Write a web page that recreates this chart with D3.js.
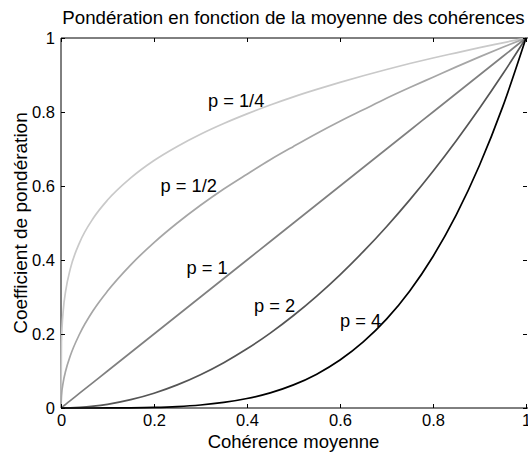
<!DOCTYPE html>
<html>
<head>
<meta charset="utf-8">
<script src="https://cdn.jsdelivr.net/npm/d3@7"></script>
<style>
  body { margin: 0; background: #fff; }
  text { font-family: "Liberation Sans", Arial, sans-serif; }
</style>
</head>
<body>
<div id="container"></div>
<script>
// sample points along the x axis (mean coherence)
const xs = [0, 0.001, 0.005, 0.01, 0.02, 0.04, 0.07, 0.1, 0.15, 0.2, 0.25, 0.3, 0.35, 0.4,
            0.45, 0.5, 0.55, 0.6, 0.65, 0.7, 0.75, 0.8, 0.85, 0.9, 0.95, 1];

// weighting coefficient
const yQuarter = [0, 0.178, 0.266, 0.316, 0.376, 0.447, 0.514, 0.562, 0.622, 0.669, 0.707, 0.740, 0.769, 0.795,
                  0.819, 0.841, 0.861, 0.880, 0.898, 0.915, 0.931, 0.946, 0.960, 0.974, 0.987, 1];
const yHalf = [0, 0.032, 0.071, 0.1, 0.141, 0.2, 0.265, 0.316, 0.387, 0.447, 0.5, 0.548, 0.592, 0.632,
               0.671, 0.707, 0.742, 0.775, 0.806, 0.837, 0.866, 0.894, 0.922, 0.949, 0.975, 1];
const yOne = [0, 0.001, 0.005, 0.01, 0.02, 0.04, 0.07, 0.1, 0.15, 0.2, 0.25, 0.3, 0.35, 0.4,
              0.45, 0.5, 0.55, 0.6, 0.65, 0.7, 0.75, 0.8, 0.85, 0.9, 0.95, 1];
const yTwo = [0, 0, 0, 0.0001, 0.0004, 0.0016, 0.0049, 0.01, 0.0225, 0.04, 0.0625, 0.09, 0.1225, 0.16,
              0.2025, 0.25, 0.3025, 0.36, 0.4225, 0.49, 0.5625, 0.64, 0.7225, 0.81, 0.9025, 1];
const yFour = [0, 0, 0, 0, 0, 0, 0, 0.0001, 0.0005, 0.0016, 0.0039, 0.0081, 0.015, 0.0256,
               0.041, 0.0625, 0.0915, 0.1296, 0.1785, 0.2401, 0.3164, 0.4096, 0.522, 0.6561, 0.8145, 1];

const seriesNames = ["p = 1/4", "p = 1/2", "p = 1", "p = 2", "p = 4"];
const seriesValues = [yQuarter, yHalf, yOne, yTwo, yFour];
const xTicks = [0, 0.2, 0.4, 0.6, 0.8, 1];
const yTicks = [0, 0.2, 0.4, 0.6, 0.8, 1];

// styling / annotation placement (not data)
const colors = ["#c9c9c9", "#a6a6a6", "#808080", "#555555", "#000000"];
const labelPos = [[0.316, 0.814], [0.214, 0.585], [0.27, 0.362], [0.415, 0.26], [0.600, 0.218]];

const w = 528;
const h = 452;
const mLeft = 61, mRight = 526, mTop = 38, mBottom = 408;

const xScale = d3.scaleLinear().domain([0, 1]).range([mLeft, mRight]);
const yScale = d3.scaleLinear().domain([0, 1]).range([mBottom, mTop]);

const svg = d3.select("#container")
              .append("svg")
              .attr("width", w)
              .attr("height", h);

// box: left, top and bottom edges (right edge falls off the figure)
svg.append("path")
   .attr("d", "M" + w + "," + mTop + "H" + mLeft + "V" + mBottom + "H" + w)
   .attr("fill", "none")
   .attr("stroke", "#000")
   .attr("stroke-width", 1);

// curves
const line = d3.line()
               .x((d) => xScale(d[0]))
               .y((d) => yScale(d[1]))
               .curve(d3.curveMonotoneX);

seriesValues.forEach(function(vals, i){
    svg.append("path")
       .datum(xs.map((x, j) => [x, vals[j]]))
       .attr("d", line)
       .attr("fill", "none")
       .attr("stroke", colors[i])
       .attr("stroke-width", 1.7)
       .attr("stroke-linejoin", "round");
});

// axes, ticks inside like matlab
const xAxis = d3.axisBottom(xScale).tickValues(xTicks).tickSizeInner(-4).tickSizeOuter(0)
                .tickPadding(6).tickFormat(d3.format("~g"));
const yAxis = d3.axisLeft(yScale).tickValues(yTicks).tickSizeInner(-4).tickSizeOuter(0)
                .tickPadding(6).tickFormat(d3.format("~g"));

svg.append("g")
   .attr("transform", "translate(0," + mBottom + ")")
   .style("font-size", "16.5px")
   .call(xAxis)
   .call((g) => g.select(".domain").remove());

svg.append("g")
   .attr("transform", "translate(" + mLeft + ",0)")
   .style("font-size", "16.5px")
   .call(yAxis)
   .call((g) => g.select(".domain").remove());

// top and right ticks
svg.append("g")
   .attr("transform", "translate(0," + mTop + ")")
   .call(d3.axisTop(xScale).tickValues(xTicks).tickSizeInner(-4).tickSizeOuter(0).tickFormat(""))
   .call((g) => g.select(".domain").remove());

svg.append("g")
   .attr("transform", "translate(" + (mRight + 1) + ",0)")
   .call(d3.axisRight(yScale).tickValues(yTicks).tickSizeInner(-4).tickSizeOuter(0).tickFormat(""))
   .call((g) => g.select(".domain").remove());

svg.selectAll(".tick text").attr("fill", "#000");
svg.selectAll(".tick line").attr("stroke", "#000");

// curve labels
seriesNames.forEach(function(name, i){
    svg.append("text")
       .attr("x", xScale(labelPos[i][0]))
       .attr("y", yScale(labelPos[i][1]))
       .style("font-size", "18.3px")
       .text(name);
});

// title
svg.append("text")
   .attr("x", (mLeft + mRight) / 2)
   .attr("y", 24)
   .attr("text-anchor", "middle")
   .style("font-size", "18.7px")
   .text("Pondération en fonction de la moyenne des cohérences");

// x-axis label
svg.append("text")
   .attr("x", (mLeft + mRight) / 2)
   .attr("y", 448)
   .attr("text-anchor", "middle")
   .style("font-size", "18.5px")
   .text("Cohérence moyenne");

// y-axis label
svg.append("text")
   .attr("transform", "translate(27," + ((mTop + mBottom) / 2) + ")rotate(-90)")
   .attr("text-anchor", "middle")
   .style("font-size", "19px")
   .text("Coefficient de pondération");
</script>
</body>
</html>
